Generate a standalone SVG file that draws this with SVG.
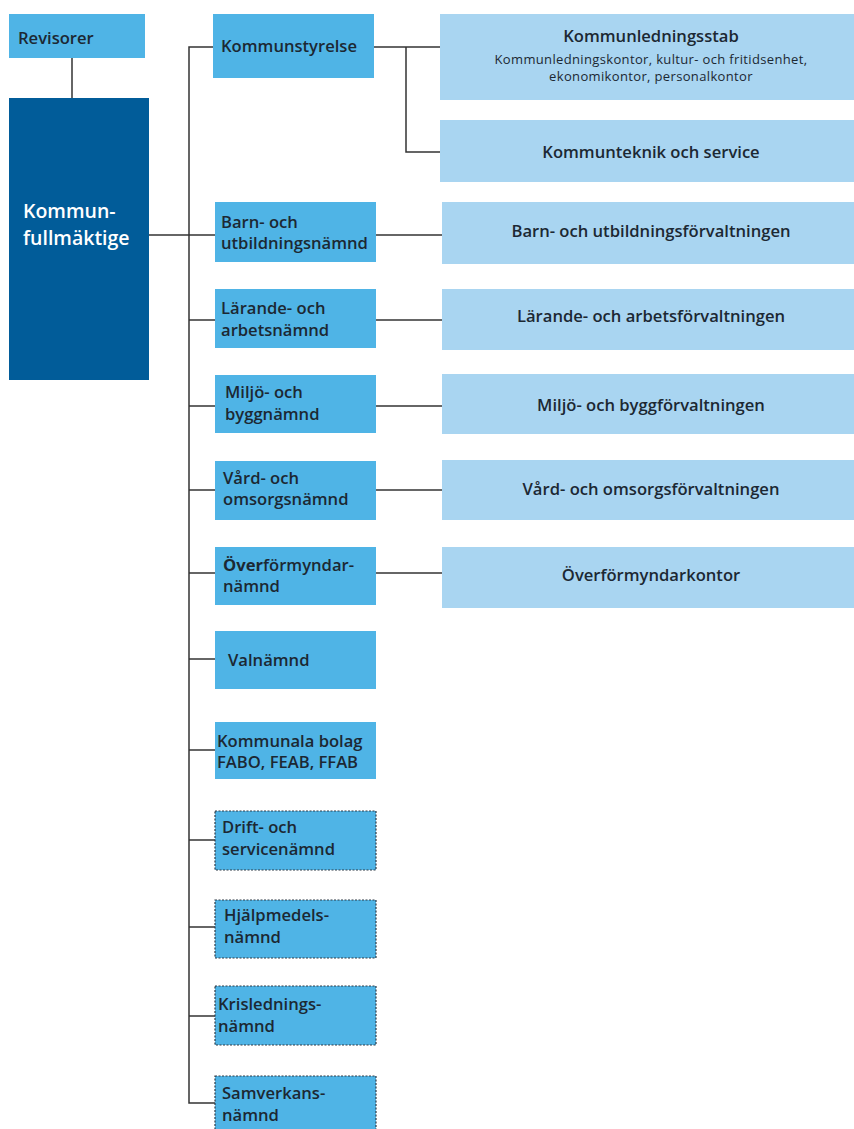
<svg xmlns="http://www.w3.org/2000/svg" width="854" height="1129" viewBox="0 0 854 1129">
  <style>
    .mid { fill: #4fb4e6; }
    .light { fill: #a9d5f1; }
    .dark { fill: #015c99; }
    .dotted { stroke: #2f3b46; stroke-width: 1.2; stroke-dasharray: 2 1.5; }
    .t { font-family: "Open Sans", "Liberation Sans", sans-serif; font-weight: 600; font-size: 16.6px; fill: #1c2833; }
    .c { text-anchor: middle; }
    .s { font-size: 13px; font-weight: 400; letter-spacing: 0.35px; }
    .w { fill: #ffffff; font-size: 19.5px; }
    .ln { stroke: #333333; stroke-width: 1.5; fill: none; }
  </style>

  <!-- connectors -->
  <g id="connectors">
    <line class="ln" x1="72" y1="58" x2="72" y2="98"/>
    <line class="ln" x1="149" y1="235" x2="215" y2="235"/>
    <polyline class="ln" points="213,47 189,47 189,1103 215,1103"/>
    <line class="ln" x1="189" y1="320" x2="215" y2="320"/>
    <line class="ln" x1="189" y1="406" x2="215" y2="406"/>
    <line class="ln" x1="189" y1="490" x2="215" y2="490"/>
    <line class="ln" x1="189" y1="573" x2="215" y2="573"/>
    <line class="ln" x1="189" y1="659" x2="215" y2="659"/>
    <line class="ln" x1="189" y1="750" x2="215" y2="750"/>
    <line class="ln" x1="189" y1="840" x2="215" y2="840"/>
    <line class="ln" x1="189" y1="927" x2="215" y2="927"/>
    <line class="ln" x1="189" y1="1016" x2="215" y2="1016"/>
    <line class="ln" x1="374" y1="47" x2="440" y2="47"/>
    <polyline class="ln" points="406,47 406,152 440,152"/>
    <line class="ln" x1="376" y1="235" x2="442" y2="235"/>
    <line class="ln" x1="376" y1="320" x2="442" y2="320"/>
    <line class="ln" x1="376" y1="406" x2="442" y2="406"/>
    <line class="ln" x1="376" y1="490" x2="442" y2="490"/>
    <line class="ln" x1="376" y1="573" x2="442" y2="573"/>
  </g>

  <!-- left column -->
  <g id="revisorer">
    <rect class="mid" x="9" y="14" width="136" height="44"/>
    <text class="t" x="18" y="44">Revisorer</text>
  </g>
  <g id="kommunfullmaktige">
    <rect class="dark" x="9" y="98" width="140" height="282"/>
    <text class="t w" x="23" y="218">Kommun-</text>
    <text class="t w" x="23" y="245">fullmäktige</text>
  </g>

  <!-- committees -->
  <g id="kommunstyrelse">
    <rect class="mid" x="213" y="14" width="161" height="64"/>
    <text class="t" x="221" y="52">Kommunstyrelse</text>
  </g>
  <g id="barn-utbildningsnamnd">
    <rect class="mid" x="215" y="202" width="161" height="60"/>
    <text class="t" x="221" y="228">Barn- och</text>
    <text class="t" x="221" y="249">utbildningsnämnd</text>
  </g>
  <g id="larande-arbetsnamnd">
    <rect class="mid" x="215" y="289" width="161" height="59"/>
    <text class="t" x="221" y="314">Lärande- och</text>
    <text class="t" x="221" y="336">arbetsnämnd</text>
  </g>
  <g id="miljo-byggnamnd">
    <rect class="mid" x="215" y="375" width="161" height="58"/>
    <text class="t" x="225" y="398">Miljö- och</text>
    <text class="t" x="225" y="420">byggnämnd</text>
  </g>
  <g id="vard-omsorgsnamnd">
    <rect class="mid" x="215" y="461" width="161" height="59"/>
    <text class="t" x="223" y="484">Vård- och</text>
    <text class="t" x="223" y="505">omsorgsnämnd</text>
  </g>
  <g id="overformyndarnamnd">
    <rect class="mid" x="215" y="547" width="161" height="58"/>
    <text class="t" x="223" y="571"><tspan font-weight="700">Över</tspan>förmyndar-</text>
    <text class="t" x="223" y="592">nämnd</text>
  </g>
  <g id="valnamnd">
    <rect class="mid" x="215" y="631" width="161" height="58"/>
    <text class="t" x="228" y="666">Valnämnd</text>
  </g>
  <g id="kommunala-bolag">
    <rect class="mid" x="215" y="722" width="161" height="57"/>
    <text class="t" x="217" y="747">Kommunala bolag</text>
    <text class="t" x="217" y="768">FABO, FEAB, FFAB</text>
  </g>
  <g id="drift-servicenamnd">
    <rect class="mid dotted" x="215" y="811" width="161" height="59"/>
    <text class="t" x="222" y="833">Drift- och</text>
    <text class="t" x="222" y="855">servicenämnd</text>
  </g>
  <g id="hjalpmedelsnamnd">
    <rect class="mid dotted" x="215" y="900" width="161" height="58"/>
    <text class="t" x="224" y="921">Hjälpmedels-</text>
    <text class="t" x="224" y="943">nämnd</text>
  </g>
  <g id="krisledningsnamnd">
    <rect class="mid dotted" x="215" y="986" width="161" height="59"/>
    <text class="t" x="218" y="1010">Krislednings-</text>
    <text class="t" x="218" y="1032">nämnd</text>
  </g>
  <g id="samverkansnamnd">
    <rect class="mid dotted" x="215" y="1076" width="161" height="60"/>
    <text class="t" x="222" y="1099">Samverkans-</text>
    <text class="t" x="222" y="1121">nämnd</text>
  </g>

  <!-- administrations -->
  <g id="kommunledningsstab">
    <rect class="light" x="440" y="14" width="414" height="86"/>
    <text class="t c" x="651" y="42">Kommunledningsstab</text>
    <text class="t c s" x="651" y="64">Kommunledningskontor, kultur- och fritidsenhet,</text>
    <text class="t c s" x="651" y="81">ekonomikontor, personalkontor</text>
  </g>
  <g id="kommunteknik">
    <rect class="light" x="440" y="120" width="414" height="62"/>
    <text class="t c" x="651" y="158">Kommunteknik och service</text>
  </g>
  <g id="barn-utbildningsforvaltningen">
    <rect class="light" x="442" y="202" width="412" height="62"/>
    <text class="t c" x="651" y="237">Barn- och utbildningsförvaltningen</text>
  </g>
  <g id="larande-arbetsforvaltningen">
    <rect class="light" x="442" y="289" width="412" height="61"/>
    <text class="t c" x="651" y="322">Lärande- och arbetsförvaltningen</text>
  </g>
  <g id="miljo-byggforvaltningen">
    <rect class="light" x="442" y="374" width="412" height="60"/>
    <text class="t c" x="651" y="411">Miljö- och byggförvaltningen</text>
  </g>
  <g id="vard-omsorgsforvaltningen">
    <rect class="light" x="442" y="460" width="412" height="60"/>
    <text class="t c" x="651" y="495">Vård- och omsorgsförvaltningen</text>
  </g>
  <g id="overformyndarkontor">
    <rect class="light" x="442" y="547" width="412" height="61"/>
    <text class="t c" x="651" y="581">Överförmyndarkontor</text>
  </g>
</svg>
